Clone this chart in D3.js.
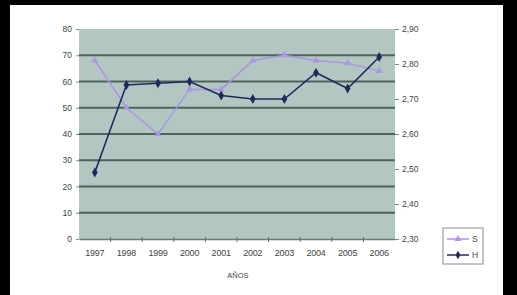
<!DOCTYPE html>
<html>
<head>
<meta charset="utf-8">
<script src="https://cdn.jsdelivr.net/npm/d3@7"></script>
<style>
  body { margin: 0; background: #000; }
  svg { display: block; }
  text { font-family: "Liberation Sans", Arial, sans-serif; }
</style>
</head>
<body>
<div id="chart"></div>
<script>
// data
let years = ["1997","1998","1999","2000","2001","2002","2003","2004","2005","2006"];
let sValues = [68, 50, 40, 57, 57, 68, 70, 68, 67, 64];           // left axis
let hValues = [2.49, 2.74, 2.745, 2.75, 2.71, 2.70, 2.70, 2.775, 2.73, 2.82]; // right axis
let leftTicks = [0, 10, 20, 30, 40, 50, 60, 70, 80];
let rightTicks = [2.3, 2.4, 2.5, 2.6, 2.7, 2.8, 2.9];

let W = 517, H = 295;
let plot = {left: 79, right: 395, top: 29, bottom: 239};

let svg = d3.select("#chart").append("svg")
  .attr("width", W)
  .attr("height", H);

// white page on black frame
svg.append("rect").attr("x", 10).attr("y", 5).attr("width", 493).attr("height", 290)
  .style("fill", "#fff");

let x = d3.scaleBand().domain(years).range([plot.left, plot.right]);
let yL = d3.scaleLinear().domain([0, 80]).range([plot.bottom, plot.top]);
let yR = d3.scaleLinear().domain([2.3, 2.9]).range([plot.bottom, plot.top]);

// plot area
svg.append("rect")
  .attr("x", plot.left).attr("y", plot.top)
  .attr("width", plot.right - plot.left).attr("height", plot.bottom - plot.top)
  .style("fill", "#b3c7c2");

// gridlines
svg.selectAll("line.grid")
  .data(leftTicks.filter(d => d > 0 && d < 80))
  .enter()
  .append("line")
  .attr("class", "grid")
  .attr("x1", plot.left).attr("x2", plot.right)
  .attr("y1", d => yL(d)).attr("y2", d => yL(d))
  .style("stroke", "#4f635e")
  .style("stroke-width", 2);

let fmtR = d => d3.format(".2f")(d).replace(".", ",");

// left axis
let gL = svg.append("g").attr("transform", `translate(${plot.left},0)`)
  .call(d3.axisLeft(yL).tickValues(leftTicks).tickSize(3).tickPadding(4));
// right axis
let gR = svg.append("g").attr("transform", `translate(${plot.right},0)`)
  .call(d3.axisRight(yR).tickValues(rightTicks).tickFormat(fmtR).tickSize(4).tickPadding(3));
// bottom axis
let gB = svg.append("g").attr("transform", `translate(0,${plot.bottom})`)
  .call(d3.axisBottom(x).tickSize(0).tickPadding(11));

// category ticks between bands
svg.selectAll("line.xtick")
  .data(years.slice(1))
  .enter()
  .append("line")
  .attr("x1", d => x(d)).attr("x2", d => x(d))
  .attr("y1", plot.bottom - 2).attr("y2", plot.bottom + 3)
  .style("stroke", "#5f6f6c");

[gL, gR, gB].forEach(g => {
  g.selectAll("path.domain").style("stroke", "#6a7a77").style("stroke-width", 1.6);
  g.selectAll(".tick line").style("stroke", "#7a8a87");
  g.selectAll("text").style("fill", "#444").style("font-size", "8.5px");
});
gB.selectAll("text").style("font-size", "9px").style("letter-spacing", "-0.2px");
gL.select("path.domain").remove();
gR.select("path.domain").remove();

// axis title
svg.append("text")
  .attr("x", 238).attr("y", 278)
  .attr("text-anchor", "middle")
  .style("font-size", "7.5px")
  .style("fill", "#444")
  .text("AÑOS");

let cx = d => x(d) + x.bandwidth() / 2;

// S line (lavender)
let sColor = "#ab95e4";
let lineS = d3.line().x((d, i) => cx(years[i])).y(d => yL(d));
svg.append("path").datum(sValues)
  .attr("d", lineS)
  .style("fill", "none").style("stroke", sColor).style("stroke-width", 1.5);
svg.selectAll("path.sm")
  .data(sValues)
  .enter()
  .append("path")
  .attr("transform", (d, i) => `translate(${cx(years[i])},${yL(d)})`)
  .attr("d", d3.symbol(d3.symbolTriangle, 22))
  .style("fill", sColor);

// H line (navy)
let hColor = "#1e2a5e";
let lineH = d3.line().x((d, i) => cx(years[i])).y(d => yR(d));
svg.append("path").datum(hValues)
  .attr("d", lineH)
  .style("fill", "none").style("stroke", hColor).style("stroke-width", 1.6);
svg.selectAll("path.hm")
  .data(hValues)
  .enter()
  .append("path")
  .attr("transform", (d, i) => `translate(${cx(years[i])},${yR(d)})`)
  .attr("d", d3.symbol(d3.symbolDiamond, 28))
  .style("fill", hColor);

// legend
let leg = svg.append("g").attr("transform", "translate(443,228)");
leg.append("rect").attr("width", 40).attr("height", 36)
  .style("fill", "#fff").style("stroke", "#8a8a9a").style("stroke-width", 1);
let legItems = [{name: "S", color: sColor, sym: d3.symbolTriangle},
                {name: "H", color: hColor, sym: d3.symbolDiamond}];
let li = leg.selectAll("g.li").data(legItems).enter().append("g")
  .attr("transform", (d, i) => `translate(0,${11 + i * 16})`);
li.append("line").attr("x1", 4).attr("x2", 26)
  .style("stroke", d => d.color).style("stroke-width", 1.5);
li.append("path").attr("transform", "translate(15,0)")
  .attr("d", d => d3.symbol(d.sym, 22)())
  .style("fill", d => d.color);
li.append("text").attr("x", 29).attr("y", 3)
  .style("font-size", "8.5px").style("fill", "#444")
  .text(d => d.name);
</script>
</body>
</html>
